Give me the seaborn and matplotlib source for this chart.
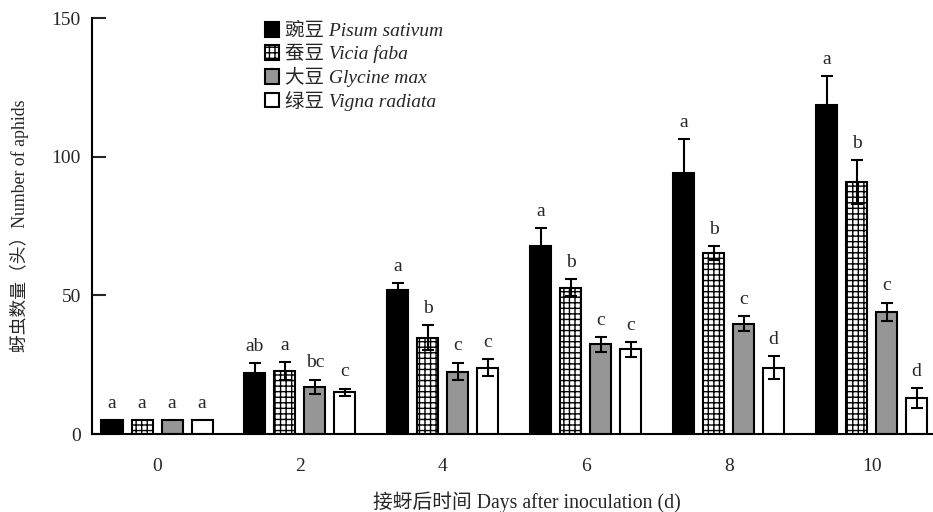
import numpy as np
import pandas as pd
import matplotlib
matplotlib.use("Agg")
import matplotlib.pyplot as plt
import seaborn as sns

# Aphid counts on four legume hosts, mean ± SE
days = ["0", "2", "4", "6", "8", "10"]
hosts = ["豌豆 Pisum sativum", "蚕豆 Vicia faba", "大豆 Glycine max", "绿豆 Vigna radiata"]

pisum_mean = [5.0, 22.1, 52.0, 67.8, 94.0, 118.6]
pisum_se = [0.0, 3.4, 2.5, 6.4, 12.4, 10.5]
vicia_mean = [5.0, 22.8, 34.8, 52.8, 65.2, 90.8]
vicia_se = [0.0, 3.2, 4.4, 3.0, 2.6, 8.0]
glycine_mean = [5.0, 17.1, 22.5, 32.3, 39.8, 44.1]
glycine_se = [0.0, 2.5, 3.2, 2.6, 2.8, 3.3]
vigna_mean = [5.0, 15.0, 23.9, 30.5, 23.9, 13.0]
vigna_se = [0.0, 1.3, 3.1, 2.7, 4.2, 3.5]

pisum_letters = ["a", "ab", "a", "a", "a", "a"]
vicia_letters = ["a", "a", "b", "b", "b", "b"]
glycine_letters = ["a", "bc", "c", "c", "c", "c"]
vigna_letters = ["a", "c", "c", "c", "d", "d"]

means = [pisum_mean, vicia_mean, glycine_mean, vigna_mean]
ses = [pisum_se, vicia_se, glycine_se, vigna_se]
letters = [pisum_letters, vicia_letters, glycine_letters, vigna_letters]

rows = []
for h, m, s in zip(hosts, means, ses):
    for d, mv, sv in zip(days, m, s):
        rows.append({"day": d, "host": h, "mean": mv, "se": sv})
df = pd.DataFrame(rows)

sns.set_theme(style="ticks")
plt.rcParams["font.family"] = ["Liberation Serif", "Noto Sans CJK SC"]
plt.rcParams["hatch.linewidth"] = 1.0
plt.rcParams["hatch.color"] = "black"

fs = 14

fig = plt.figure(figsize=(9.33, 5.12), dpi=100)
ax = fig.add_axes([0.0986, 0.1523, 0.9014, 0.8125])

colors = ["#000000", "#ffffff", "#969696", "#ffffff"]
sns.barplot(data=df, x="day", y="mean", hue="host", order=days, hue_order=hosts,
            palette=colors, width=0.84, gap=0.3, errorbar=None,
            edgecolor="black", linewidth=1.5, saturation=1, legend=False, ax=ax)

bar_groups = list(ax.containers)
for i, cont in enumerate(bar_groups):
    for j, bar in enumerate(cont):
        if i == 1:
            bar.set_hatch("+++")
        x = bar.get_x() + bar.get_width() / 2
        top = means[i][j] + ses[i][j]
        if ses[i][j] > 0:
            ax.errorbar(x, means[i][j], yerr=ses[i][j], fmt="none", ecolor="black",
                        elinewidth=1.5, capsize=4.5, capthick=1.5, zorder=3)
        ax.annotate(letters[i][j], (x, top), xytext=(0, 6), textcoords="offset points",
                    ha="center", va="bottom", fontsize=fs)

ax.set_xlim(-0.455, 5.43)
ax.set_ylim(0, 150)
ax.set_yticks([0, 50, 100, 150])
ax.tick_params(axis="y", direction="in", length=10, width=1.5, labelsize=fs, pad=8)
ax.tick_params(axis="x", length=0, labelsize=fs, pad=17)
for side in ["top", "right"]:
    ax.spines[side].set_visible(False)
for side in ["left", "bottom"]:
    ax.spines[side].set_linewidth(1.5)
    ax.spines[side].set_color("black")

ax.set_xlabel("接蚜后时间 Days after inoculation (d)", fontsize=14.2)
ax.xaxis.set_label_coords(0.517, -0.138)
ax.set_ylabel("蚜虫数量（头）Number of aphids", fontsize=12.8, labelpad=16)

handles = [c.patches[0] for c in bar_groups]
leg = ax.legend(handles, hosts, loc="upper left", bbox_to_anchor=(0.197, 1.01), frameon=False,
                prop={"style": "italic", "size": fs}, handlelength=0.72, handleheight=0.8,
                handletextpad=0.3, labelspacing=0.2, borderaxespad=0)

fig.savefig("out.png", dpi=100)
